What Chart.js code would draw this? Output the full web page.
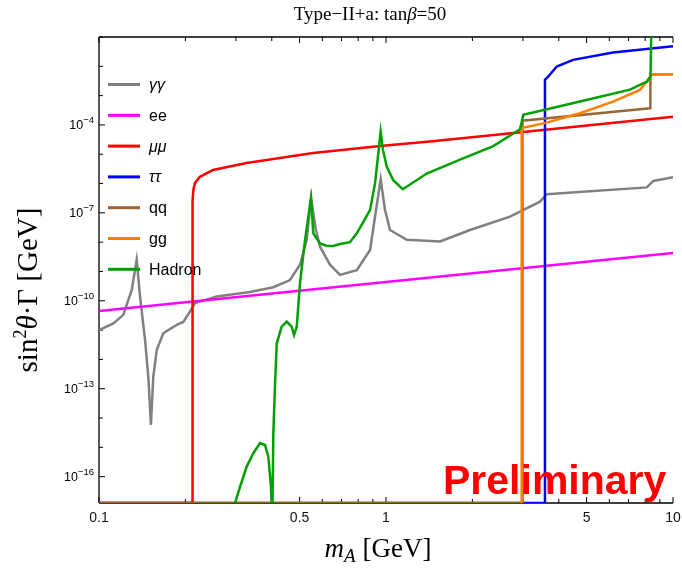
<!DOCTYPE html>
<html>
<head>
<meta charset="utf-8">
<script src="https://cdn.jsdelivr.net/npm/chart.js@4.4.1/dist/chart.umd.min.js"></script>
<style>
html,body{margin:0;padding:0;background:#fff;}
</style>
</head>
<body>
<canvas id="widths" width="682" height="576"></canvas>
<script>
// Decay widths of the pseudoscalar A, Type-II+a, tan(beta)=50

const FLOOR=1.26e-17;

const xTicks=[0.1,0.2,0.3,0.4,0.5,0.6,0.7,0.8,0.9,1,2,3,4,5,6,7,8,9,10];
const xTickLabels=[0.1,0.5,1,5,10];
const yTicks=[1e-16,1e-15,1e-14,1e-13,1e-12,1e-11,1e-10,1e-9,1e-8,1e-7,1e-6,1e-5,1e-4,1e-3,1e-2,1e-1];
const yTickLabels=[-16,-13,-10,-7,-4];

const seriesNames=["γγ","ee","μμ","ττ","qq","gg","Hadron"];
const seriesColors=["#808080","#ff00ff","#ff0000","#0000ff","#996633","#ff8000","#00a000"];

// [m_A in GeV, width in GeV]
const gammaGamma=[[0.1,1.0e-11],[0.1122,1.7e-11],[0.1215,3.3e-11],[0.130,2.3e-10],[0.1353,2.5e-9],[0.139,1.4e-10],
[0.1447,4.6e-12],[0.1485,2.6e-13],[0.1517,5.8e-15],[0.1546,2.6e-13],[0.1589,2.1e-12],[0.1675,7.8e-12],[0.1865,1.5e-11],
[0.1967,1.9e-11],[0.2075,4.3e-11],[0.216,8.4e-11],[0.2571,1.4e-10],[0.3359,2.0e-10],[0.405,2.9e-10],[0.463,5.1e-10],
[0.5015,1.7e-9],[0.5294,1.2e-8],[0.548,3.2e-7],[0.570,2.6e-8],[0.589,7.0e-9],[0.638,1.7e-9],[0.691,7.6e-10],[0.791,1.1e-9],
[0.88,5.4e-9],[0.958,1.4e-6],[0.992,1.26e-7],[1.033,2.6e-8],[1.181,1.2e-8],[1.543,1.05e-8],[1.962,2.6e-8],[2.704,7.4e-8],
[3.44,2.4e-7],[3.63,4.3e-7],[8.10,7.4e-7],[8.54,1.23e-6],[10,1.64e-6]];
const eeWidth=[[0.1,4.5e-11],[1,4.4e-10],[10,4.3e-9]];
const muMu=[[0.1,FLOOR],[0.2113,FLOOR],[0.2118,2.5e-7],[0.2132,6.0e-7],[0.216,1.05e-6],[0.2247,1.7e-6],[0.2496,2.9e-6],
[0.327,5.0e-6],[0.557,1.1e-5],[0.953,1.9e-5],[1.423,2.7e-5],[10,1.9e-4]];
const tauTau=[[0.1,FLOOR],[3.56,FLOOR],[3.58,3.5e-3],[3.678,4.5e-3],[3.934,9.8e-3],[4.483,1.66e-2],[6.18,2.95e-2],[10,4.8e-2]];
const qq=[[0.1,FLOOR],[2.98,FLOOR],[2.99,1.4e-4],[8.32,3.7e-4],[8.34,5.3e-3],[10,5.4e-3]];
const gg=[[2.96,FLOOR],[2.97,7.8e-5],[3.63,1.2e-4],[4.74,2.5e-4],[6.18,6.2e-4],[7.67,1.57e-3],[8.20,3.5e-3],[8.43,5.4e-3],[10,5.4e-3]];
const hadron=[[0.2978,FLOOR],[0.31,4.5e-17],[0.327,2.2e-16],[0.345,6.3e-16],[0.364,1.4e-15],[0.3787,1.2e-15],[0.389,4.8e-16],
[0.3966,5.9e-17],[0.3996,FLOOR],[0.4023,FLOOR],[0.405,3.0e-15],[0.4106,1.5e-13],[0.4162,3.5e-12],[0.433,1.3e-11],
[0.4508,1.95e-11],[0.469,1.3e-11],[0.478,6.8e-12],[0.4886,1.3e-11],[0.5015,4.0e-10],[0.5224,1.2e-8],[0.5467,2.8e-7],
[0.548,3.2e-7],[0.558,2.0e-8],[0.589,9.1e-9],[0.6216,7.6e-9],[0.655,7.4e-9],[0.691,8.7e-9],[0.749,1.0e-8],[0.791,2.0e-8],
[0.834,4.9e-8],[0.88,1.26e-7],[0.916,1.03e-6],[0.958,5.9e-5],[0.976,1.4e-5],[1.006,3.8e-6],[1.06,1.3e-6],[1.144,6.4e-7],
[1.387,2.2e-6],[1.81,6.5e-6],[2.365,1.9e-5],[2.93,7.1e-5],[3.01,2.2e-4],[4.74,6.3e-4],[7.08,1.6e-3],[8.10,3.0e-3],
[8.35,4.5e-3],[8.43,1]];

const allSeries=[gammaGamma,eeWidth,muMu,tauTau,qq,gg,hadron];
const italicNames=[true,false,true,true,false,false,false];

const SERIF='"Liberation Serif","Times New Roman",serif';
const SANS='"Liberation Sans",Arial,sans-serif';

function toXY(arr){
return arr.map(p=>({x:p[0],y:p[1]}));
}

function drawParts(ctx,parts,x,y){
let w=0;
parts.forEach(p=>{ctx.font=p[1];w+=ctx.measureText(p[0]).width;});
let cx=x-w/2;
parts.forEach(p=>{
ctx.font=p[1];
ctx.fillText(p[0],cx,y+(p[2]||0));
cx+=ctx.measureText(p[0]).width;
});
}

// frame and inward ticks, under the curves
const framePlugin={
id:"frame",
beforeDatasetsDraw(chart){
const ctx=chart.ctx,a=chart.chartArea;
const xs=chart.scales.x,ys=chart.scales.y;
ctx.save();
ctx.strokeStyle="#000";
ctx.lineWidth=1.3;
ctx.beginPath();
ctx.moveTo(a.left,a.top);ctx.lineTo(a.left,a.bottom);
ctx.moveTo(a.left,a.top);ctx.lineTo(a.right,a.top);
ctx.moveTo(a.left,a.bottom);ctx.lineTo(a.right,a.bottom);
ctx.stroke();
ctx.lineWidth=1;
ctx.beginPath();
xTicks.forEach(v=>{
const px=xs.getPixelForValue(v);
const len=xTickLabels.includes(v)?6:4;
ctx.moveTo(px,a.bottom);ctx.lineTo(px,a.bottom-len);
ctx.moveTo(px,a.top);ctx.lineTo(px,a.top+len);
});
yTicks.forEach(v=>{
const py=ys.getPixelForValue(v);
const e=Math.round(Math.log10(v));
const len=yTickLabels.includes(e)?6:4;
ctx.moveTo(a.left,py);ctx.lineTo(a.left+len,py);
});
ctx.stroke();
ctx.restore();
}
};

// y labels with superscripts, legend, titles, stamp
const textPlugin={
id:"texts",
afterDraw(chart){
const ctx=chart.ctx,a=chart.chartArea,ys=chart.scales.y;
ctx.save();
ctx.fillStyle="#000";
ctx.textBaseline="alphabetic";
ctx.textAlign="left";

// y tick labels
yTickLabels.forEach(e=>{
const py=ys.getPixelForValue(Math.pow(10,e));
const sup="\u2212"+Math.abs(e);
ctx.font="9.5px "+SANS;
const ws=ctx.measureText(sup).width;
ctx.font="12.5px "+SANS;
const wb=ctx.measureText("10").width;
const right=a.left-5;
ctx.fillText("10",right-ws-wb,py+4.5);
ctx.font="9.5px "+SANS;
ctx.fillText(sup,right-ws,py-1.5);
});

// legend inside the plot
ctx.textBaseline="middle";
chart.data.datasets.forEach((ds,i)=>{
const y=84.5+i*30.8;
ctx.strokeStyle=ds.borderColor;
ctx.lineWidth=3;
ctx.beginPath();ctx.moveTo(108,y);ctx.lineTo(140,y);ctx.stroke();
ctx.font=(italicNames[i]?"italic ":"")+"16px "+SANS;
ctx.fillStyle="#000";
ctx.fillText(ds.label,149,y+1);
});

// titles
ctx.textBaseline="alphabetic";
ctx.fillStyle="#000";
drawParts(ctx,[["Type\u2212II+a: tan","19px "+SERIF],["β","italic 19px "+SERIF],["=50","19px "+SERIF]],370,20);
drawParts(ctx,[["m","italic 27px "+SERIF],["A","italic 19px "+SERIF,5],[" [GeV]","27px "+SERIF]],378,557);
ctx.save();
ctx.translate(37,290);
ctx.rotate(-Math.PI/2);
drawParts(ctx,[["sin","29px "+SERIF],["2","18px "+SERIF,-11],["θ","italic 29px "+SERIF],["\u00b7\u0393 [GeV]","29px "+SERIF]],0,0);
ctx.restore();

// stamp
ctx.fillStyle="#ff0000";
ctx.font="bold 41px "+SANS;
ctx.fillText("Preliminary",443,494);
ctx.restore();
}
};

new Chart(
document.getElementById("widths"),
{
type:"line",
data:{
datasets:allSeries.map((s,i)=>({
label:seriesNames[i],
data:toXY(s),
borderColor:seriesColors[i],
backgroundColor:seriesColors[i],
borderWidth:2.5,
pointRadius:0,
fill:false,
tension:0,
order:7-i
}))
},
options:{
responsive:false,
animation:false,
devicePixelRatio:1,
layout:{padding:{top:37,right:9,left:0,bottom:0}},
plugins:{legend:{display:false},tooltip:{enabled:false},title:{display:false}},
scales:{
x:{
type:"logarithmic",
min:0.1,
max:10,
afterBuildTicks:s=>{s.ticks=xTicks.map(v=>({value:v}));},
afterFit:s=>{s.height=73;s.paddingLeft=0;s.paddingRight=0;},
grid:{display:false,drawTicks:false},
border:{display:false},
ticks:{
autoSkip:false,
maxRotation:0,
padding:7,
color:"#111",
font:{family:SANS,size:14},
callback:v=>xTickLabels.includes(v)?String(v):""
}
},
y:{
type:"logarithmic",
min:FLOOR,
max:0.1,
afterBuildTicks:s=>{s.ticks=yTicks.map(v=>({value:v}));},
afterFit:s=>{s.width=99;s.paddingTop=0;s.paddingBottom=0;},
grid:{display:false,drawTicks:false},
border:{display:false},
ticks:{display:false}
}
}
},
plugins:[framePlugin,textPlugin]
}
);
</script>
</body>
</html>
